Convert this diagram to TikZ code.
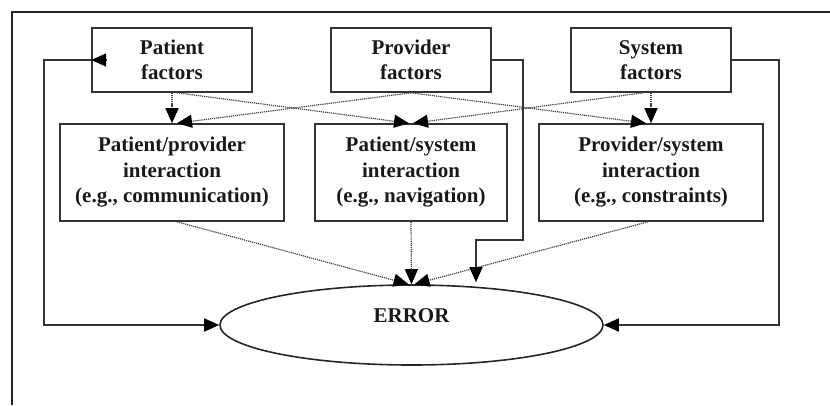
\documentclass[tikz,border=0pt]{standalone}
\usepackage{fontspec}
\setmainfont{Liberation Serif}
\usetikzlibrary{arrows.meta,shapes.geometric,calc}

\begin{document}
\begin{tikzpicture}[x=1pt,y=-1pt,
  every node/.style={font=\fontsize{21}{25.5}\selectfont\bfseries, text=black!90},
  factor/.style={draw=black!80, line width=1.6pt, minimum width=160pt,
    minimum height=64pt, align=center, inner sep=0pt},
  inter/.style={draw=black!80, line width=1.6pt, minimum height=97pt,
    align=center, inner sep=0pt},
  arrowtip/.style={-{Triangle[length=15pt,width=13pt,color=black]}},
  feedback/.style={arrowtip, draw=black!80, line width=1.5pt},
  influence/.style={arrowtip, draw=black!75, line width=1.2pt,
    dash pattern=on 1.2pt off 0.9pt},
]
\useasboundingbox (0,0) rectangle (830,405);

% frame
\draw[line width=1.6pt, black!85] (12,405) -- (12,12) -- (830,12);

% factor boxes
\node[factor] (pf)  at (172,60) {Patient\\factors};
\node[factor] (prf) at (411,60) {Provider\\factors};
\node[factor] (sf)  at (651,60) {System\\factors};

% interaction boxes
\node[inter, minimum width=224pt] (ppi) at (172,172.5)
  {Patient/provider\\interaction\\(e.g., communication)};
\node[inter, minimum width=192pt] (psi) at (411,172.5)
  {Patient/system\\interaction\\(e.g., navigation)};
\node[inter, minimum width=224pt] (psy) at (651,172.5)
  {Provider/system\\interaction\\(e.g., constraints)};

% outcome
\node[ellipse, draw=black!85, line width=1.6pt, minimum width=383pt,
  minimum height=80pt, inner sep=0pt, text height=0pt, text depth=6pt]
  (err) at (411.5,325) {ERROR};

% factors feed the interactions
\draw[influence] (pf.south) -- (ppi.north);
\draw[influence] ([xshift=5pt]pf.south) -- ([xshift=-2pt]psi.north);
\draw[influence] (prf.south) -- ([xshift=5pt]ppi.north);
\draw[influence] (prf.south) -- ([xshift=-5pt]psy.north);
\draw[influence] ([xshift=-8pt]sf.south) -- ([xshift=2pt]psi.north);
\draw[influence] (sf.south) -- (psy.north);

% interactions lead to error
\draw[influence] ([xshift=5pt]ppi.south) -- ([xshift=-3pt]err.north);
\draw[influence] (psi.south) -- (err.north);
\draw[influence] ([xshift=-3pt]psy.south) -- ([xshift=3pt]err.north);

% direct paths and feedback
\draw[feedback] (pf.west) -- (44,60) |- (err.west);
\draw[feedback] ([xshift=16pt]pf.west) -- (pf.west);
\draw[feedback] (prf.east) -- (523,60) -- (523,240) -| ($(err.north)+(64.5,-2)$);
\draw[feedback] (sf.east) -- (779,60) |- (err.east);
\end{tikzpicture}
\end{document}
